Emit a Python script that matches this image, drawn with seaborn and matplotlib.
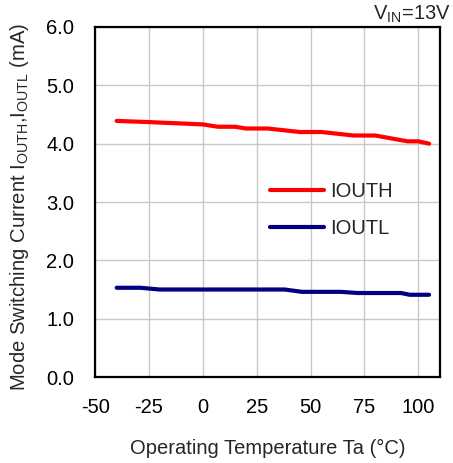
import numpy as np
import pandas as pd
import matplotlib
matplotlib.use("Agg")
import matplotlib.pyplot as plt
import seaborn as sns

# values
temp_outh = [-40, -25, 0, 7, 15, 20, 30, 45, 55, 70, 80, 95, 100, 105]
iouth = [4.39, 4.37, 4.33, 4.29, 4.29, 4.26, 4.26, 4.20, 4.20, 4.14, 4.14, 4.04, 4.04, 4.00]
temp_outl = [-40, -29, -20, 38, 46, 64, 72, 92, 96, 105]
ioutl = [1.53, 1.53, 1.50, 1.50, 1.46, 1.46, 1.44, 1.44, 1.41, 1.41]

x_ticks = [-50, -25, 0, 25, 50, 75, 100]
y_ticks = [0.0, 1.0, 2.0, 3.0, 4.0, 5.0, 6.0]

df = pd.concat([
    pd.DataFrame({"Ta": temp_outh, "I": iouth, "series": "IOUTH"}),
    pd.DataFrame({"Ta": temp_outl, "I": ioutl, "series": "IOUTL"}),
], ignore_index=True)

sns.set_style("white")
plt.rcParams["font.family"] = ["Liberation Sans", "DejaVu Sans"]
plt.rcParams["mathtext.fontset"] = "custom"
plt.rcParams["mathtext.rm"] = "Liberation Sans"
plt.rcParams["mathtext.it"] = "Liberation Sans"
plt.rcParams["axes.unicode_minus"] = False

FS = 14.5

fig = plt.figure(figsize=(4.53, 4.63), dpi=100)
ax = fig.add_axes([0.21, 0.1857, 0.761, 0.756])

sns.lineplot(data=df, x="Ta", y="I", hue="series",
             palette={"IOUTH": "#FF0000", "IOUTL": "#000080"},
             linewidth=3, ax=ax, estimator=None, sort=False)

ax.set_xlim(-50, 110)
ax.set_ylim(0, 6)
ax.set_xticks(x_ticks)
ax.set_yticks(y_ticks)
ax.set_yticklabels([f"{v:.1f}" for v in y_ticks])
ax.grid(True, color="#C8C8C8", linewidth=1.0)
ax.tick_params(axis="both", direction="in", length=3, width=1,
               labelsize=FS, colors="black", pad=15)
for sp in ax.spines.values():
    sp.set_color("black")
    sp.set_linewidth(1.6)

ax.set_xlabel("Operating Temperature Ta (°C)", fontsize=FS, labelpad=16)
ax.set_ylabel("")
fig.text(19.5 / 453, 0.553,
         r"Mode Switching Current I$_{\mathrm{OUTH}}$,I$_{\mathrm{OUTL}}$ (mA)",
         rotation=90, ha="center", va="center", fontsize=14.6)

ax.legend(loc="center left", bbox_to_anchor=(0.507, 0.477), frameon=False,
          borderaxespad=0, borderpad=0, handlelength=2.7, handletextpad=0.3,
          labelspacing=0.88, fontsize=FS, title=None)

fig.text(0.995, 0.968, r"V$_{\mathrm{IN}}$=13V", ha="right", va="center",
         fontsize=FS)

fig.savefig("out.png", dpi=100)
